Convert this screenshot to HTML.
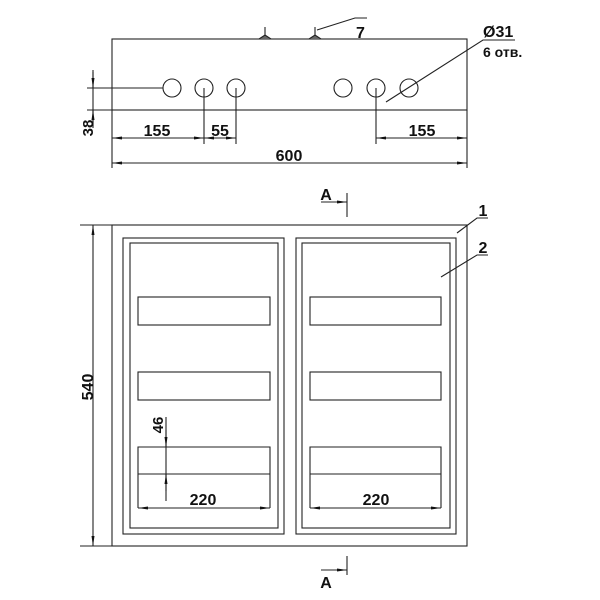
<!DOCTYPE html>
<html><head><meta charset="utf-8"><style>
html,body{margin:0;padding:0;background:#fff;}
svg{display:block}
text{font-family:"Liberation Sans",Arial,sans-serif;font-weight:bold;fill:#111;}
</style></head><body>
<svg width="600" height="600" viewBox="0 0 600 600" xmlns="http://www.w3.org/2000/svg">
<defs>
<marker id="ar" viewBox="0 0 10 4" refX="10" refY="2" markerWidth="10" markerHeight="4" markerUnits="userSpaceOnUse" orient="auto-start-reverse"><path d="M0,0.5 L10,2 L0,3.5 z" fill="#111"/></marker>
</defs>
<g stroke="#222" stroke-width="1.1" fill="none">
<rect x="112" y="39" width="355" height="71"/>
<line x1="87" y1="110" x2="467" y2="110"/>
<line x1="87" y1="88" x2="163" y2="88"/>
<circle cx="172" cy="88" r="9"/><circle cx="204" cy="88" r="9"/><circle cx="236" cy="88" r="9"/>
<circle cx="343" cy="88" r="9"/><circle cx="376" cy="88" r="9"/><circle cx="409" cy="88" r="9"/>
<line x1="265" y1="27" x2="265" y2="36"/><path d="M259,39 L265,35 L271,39" fill="#666"/>
<line x1="315" y1="27" x2="315" y2="36"/><path d="M309,39 L315,35 L321,39" fill="#666"/>
<polyline points="317,30 355,18 367,18"/>
<line x1="93" y1="70" x2="93" y2="128"/>
<line x1="93" y1="72" x2="93" y2="88" marker-end="url(#ar)"/>
<line x1="93" y1="126" x2="93" y2="110" marker-end="url(#ar)"/>
<line x1="204" y1="88" x2="204" y2="144"/>
<line x1="236" y1="88" x2="236" y2="144"/>
<line x1="376" y1="88" x2="376" y2="144"/>
<line x1="112" y1="110" x2="112" y2="168"/>
<line x1="467" y1="110" x2="467" y2="168"/>
<line x1="112" y1="138" x2="204" y2="138" marker-start="url(#ar)" marker-end="url(#ar)"/>
<line x1="204" y1="138" x2="236" y2="138" marker-start="url(#ar)" marker-end="url(#ar)"/>
<line x1="376" y1="138" x2="467" y2="138" marker-start="url(#ar)" marker-end="url(#ar)"/>
<line x1="112" y1="163" x2="467" y2="163" marker-start="url(#ar)" marker-end="url(#ar)"/>
<polyline points="515,40 483,40 386,102"/>
<rect x="112" y="225" width="355" height="321"/>
<line x1="80" y1="225" x2="112" y2="225"/>
<line x1="80" y1="546" x2="112" y2="546"/>
<line x1="93" y1="225" x2="93" y2="546" marker-start="url(#ar)" marker-end="url(#ar)"/>
<rect x="123" y="238" width="161" height="296"/>
<rect x="130" y="243" width="148" height="285"/>
<rect x="296" y="238" width="160" height="296"/>
<rect x="302" y="243" width="148" height="285"/>
<rect x="138" y="297" width="132" height="28"/>
<rect x="138" y="372" width="132" height="28"/>
<polyline points="138,508 138,447 270,447 270,508"/>
<line x1="138" y1="474" x2="270" y2="474"/>
<rect x="310" y="297" width="131" height="28"/>
<rect x="310" y="372" width="131" height="28"/>
<polyline points="310,508 310,447 441,447 441,508"/>
<line x1="310" y1="474" x2="441" y2="474"/>
<line x1="138" y1="508" x2="270" y2="508" marker-start="url(#ar)" marker-end="url(#ar)"/>
<line x1="310" y1="508" x2="441" y2="508" marker-start="url(#ar)" marker-end="url(#ar)"/>
<line x1="166" y1="417" x2="166" y2="501"/>
<line x1="166" y1="430" x2="166" y2="447" marker-end="url(#ar)"/>
<line x1="166" y1="491" x2="166" y2="474" marker-end="url(#ar)"/>
<line x1="347" y1="193" x2="347" y2="217"/>
<line x1="321" y1="202" x2="347" y2="202" marker-end="url(#ar)"/>
<line x1="347" y1="556" x2="347" y2="575"/>
<line x1="321" y1="570" x2="347" y2="570" marker-end="url(#ar)"/>
<polyline points="488,218 477,218 457,233"/>
<polyline points="488,255 477,255 441,277"/>
</g>
<g font-size="16">
<text x="356" y="38">7</text>
<text x="483" y="37">Ø31</text>
<text x="483" y="57" font-size="14">6 отв.</text>
<text x="157" y="136" text-anchor="middle">155</text>
<text x="220" y="136" text-anchor="middle">55</text>
<text x="422" y="136" text-anchor="middle">155</text>
<text x="289" y="161" text-anchor="middle">600</text>
<text transform="translate(93,128) rotate(-90)" text-anchor="middle" font-size="15">38</text>
<text transform="translate(93,387) rotate(-90)" text-anchor="middle">540</text>
<text transform="translate(163,425) rotate(-90)" text-anchor="middle" font-size="15">46</text>
<text x="203" y="505" text-anchor="middle">220</text>
<text x="376" y="505" text-anchor="middle">220</text>
<text x="326" y="200" text-anchor="middle">A</text>
<text x="326" y="588" text-anchor="middle">A</text>
<text x="483" y="216" text-anchor="middle">1</text>
<text x="483" y="253" text-anchor="middle">2</text>
</g>
</svg>
</body></html>
